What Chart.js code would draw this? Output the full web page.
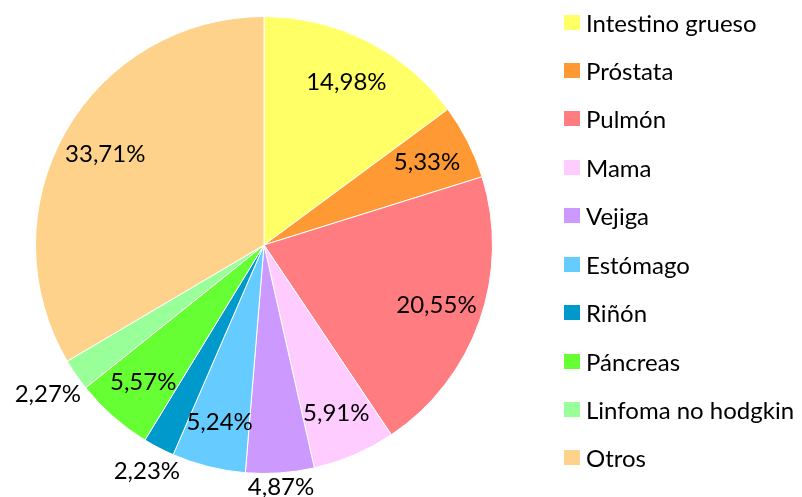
<!DOCTYPE html>
<html>
<head>
<meta charset="utf-8">
<script src="https://cdn.jsdelivr.net/npm/chart.js@4/dist/chart.umd.min.js"></script>
<style>
  body { margin: 0; background: #fff; }
  #wrap { position: relative; width: 802px; height: 497px; }
  #legend { position: absolute; left: 564px; top: 0; font-family: Lato, "Open Sans", sans-serif; font-size: 24px; color: #000; }
  .item { position: absolute; left: 0; height: 28px; display: flex; align-items: center; white-space: nowrap; }
  .box { width: 16px; height: 15px; margin-right: 6px; flex: none; }
</style>
</head>
<body>
<div id="wrap">
  <canvas id="pieChart" width="802" height="497"></canvas>
  <div id="legend"></div>
</div>
<script>
const categories = ["Intestino grueso", "Próstata", "Pulmón", "Mama", "Vejiga", "Estómago", "Riñón", "Páncreas", "Linfoma no hodgkin", "Otros"];
const percentages = [14.98, 5.33, 20.55, 5.91, 4.87, 5.24, 2.23, 5.57, 2.27, 33.71];
const colors = ["#FFFF66", "#FF9933", "#FF7C80", "#FFCCFF", "#CC99FF", "#66CCFF", "#0099CC", "#66FF33", "#99FF99", "#FFD28C"];
// which labels sit outside the pie (best-fit placement in the original)
const outsideLabel = [false, false, false, false, true, false, true, false, true, false];

const fmt = v => v.toFixed(2).replace(".", ",") + "%";

const pctLabels = {
    id: "pctLabels",
    afterDatasetsDraw(chart) {
        const ctx = chart.ctx;
        const meta = chart.getDatasetMeta(0);
        ctx.save();
        ctx.font = "24px Lato";
        ctx.fillStyle = "#000";
        ctx.textAlign = "center";
        ctx.textBaseline = "middle";
        meta.data.forEach((arc, i) => {
            const { x, y, startAngle, endAngle, outerRadius } = arc.getProps(["x", "y", "startAngle", "endAngle", "outerRadius"], true);
            const mid = (startAngle + endAngle) / 2;
            const cos = Math.cos(mid), sin = Math.sin(mid);
            const text = fmt(percentages[i]);
            let r = outerRadius * 0.8;
            if (outsideLabel[i]) {
                const w = ctx.measureText(text).width;
                r = outerRadius + Math.abs(cos) * w / 2 + Math.abs(sin) * 12;
            }
            ctx.fillText(text, x + cos * r, y + sin * r);
        });
        ctx.restore();
    }
};

new Chart(document.getElementById("pieChart"), {
    type: "pie",
    data: {
        labels: categories,
        datasets: [{
            data: percentages,
            backgroundColor: colors,
            borderColor: "#fff",
            borderWidth: 1
        }]
    },
    options: {
        responsive: false,
        animation: false,
        layout: { padding: { left: 0, right: 274, top: 16, bottom: 23 } },
        plugins: {
            legend: { display: false },
            tooltip: { enabled: false }
        }
    },
    plugins: [pctLabels]
});

const legend = document.getElementById("legend");
categories.forEach((name, i) => {
    const row = document.createElement("div");
    row.className = "item";
    row.style.top = (22 + i * 48.44 - 14) + "px";
    const box = document.createElement("span");
    box.className = "box";
    box.style.background = colors[i];
    row.appendChild(box);
    row.appendChild(document.createTextNode(name));
    legend.appendChild(row);
});
</script>
</body>
</html>
